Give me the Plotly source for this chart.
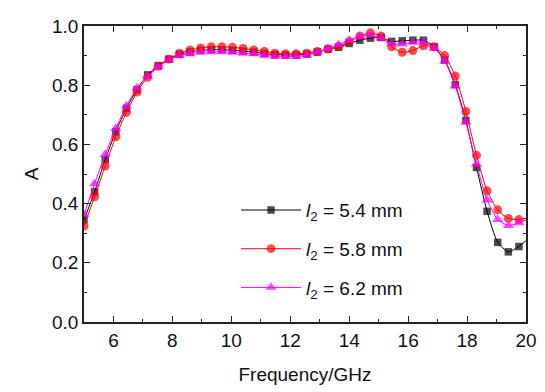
import plotly.graph_objects as go

# Frequency sample points (GHz); the final value is where each curve meets the 20 GHz axis
freq = [5.00, 5.36, 5.72, 6.08, 6.44, 6.80, 7.16, 7.52, 7.88, 8.24,
        8.60, 8.96, 9.32, 9.68, 10.04, 10.40, 10.76, 11.12, 11.48, 11.84,
        12.20, 12.56, 12.92, 13.28, 13.64, 14.00, 14.36, 14.72, 15.08, 15.44,
        15.80, 16.16, 16.52, 16.88, 17.24, 17.60, 17.96, 18.32, 18.68, 19.04,
        19.40, 19.76, 20.00]

a_54 = [0.345, 0.440, 0.549, 0.643, 0.722, 0.785, 0.835, 0.866, 0.888, 0.904,
        0.912, 0.918, 0.920, 0.920, 0.918, 0.915, 0.912, 0.907, 0.903, 0.902,
        0.902, 0.905, 0.912, 0.922, 0.928, 0.941, 0.952, 0.959, 0.961, 0.948,
        0.950, 0.952, 0.952, 0.930, 0.885, 0.802, 0.681, 0.522, 0.374, 0.269,
        0.237, 0.255, 0.275]

a_58 = [0.324, 0.423, 0.527, 0.626, 0.708, 0.777, 0.827, 0.864, 0.888, 0.908,
        0.919, 0.926, 0.930, 0.930, 0.928, 0.924, 0.919, 0.914, 0.908, 0.906,
        0.906, 0.908, 0.914, 0.922, 0.931, 0.947, 0.966, 0.977, 0.966, 0.930,
        0.911, 0.917, 0.933, 0.930, 0.900, 0.831, 0.711, 0.563, 0.443, 0.379,
        0.350, 0.346, 0.350]

a_62 = [0.362, 0.467, 0.566, 0.654, 0.730, 0.791, 0.830, 0.862, 0.885, 0.900,
        0.906, 0.911, 0.913, 0.913, 0.911, 0.908, 0.906, 0.901, 0.898, 0.897,
        0.897, 0.902, 0.912, 0.924, 0.937, 0.952, 0.964, 0.970, 0.959, 0.941,
        0.939, 0.945, 0.945, 0.926, 0.882, 0.797, 0.675, 0.533, 0.412, 0.346,
        0.326, 0.335, 0.345]

series_names = ["<i>l</i><sub>2</sub> = 5.4 mm",
                "<i>l</i><sub>2</sub> = 5.8 mm",
                "<i>l</i><sub>2</sub> = 6.2 mm"]
y_ticks = [0.0, 0.2, 0.4, 0.6, 0.8, 1.0]
x_ticks = [6, 8, 10, 12, 14, 16, 18, 20]

FONT = "Liberation Sans, Arial, sans-serif"

fig = go.Figure()
styles = [
    (a_54, "#000000", "square", 7.5),
    (a_58, "#FF0000", "circle", 9),
    (a_62, "#FF00FF", "triangle-up", 10),
]
n = len(freq)
for i, (ys, col, sym, sz) in enumerate(styles):
    sizes = [sz] * (n - 1) + [0]  # no marker where the curve meets the axis edge
    fig.add_trace(go.Scatter(
        x=freq, y=ys, name=series_names[i], mode="lines+markers",
        line=dict(color=col, width=1, shape="spline", smoothing=0.6),
        marker=dict(color=col, symbol=sym, size=sizes, line=dict(width=0)),
        legendgroup=f"g{i}",
    ))

axis_common = dict(
    showline=True, linecolor="#222222", linewidth=1.5, mirror="allticks",
    ticks="inside", ticklen=6, tickwidth=1.2, tickcolor="#222222",
    showgrid=False, zeroline=False, automargin=False,
    tickfont=dict(family=FONT, size=19, color="#111111"),
)

fig.update_xaxes(
    range=[5, 20], tickvals=x_ticks, ticktext=[str(v) for v in x_ticks],
    minor=dict(ticks="inside", ticklen=3, dtick=1, tick0=5, tickcolor="#222222", tickwidth=1),
    title=dict(text="Frequency/GHz", font=dict(family=FONT, size=19, color="#111111"), standoff=18),
    **axis_common,
)
fig.update_yaxes(
    range=[0, 1.0], tickvals=y_ticks, ticktext=[f"{v:.1f}" for v in y_ticks],
    minor=dict(ticks="inside", ticklen=3, dtick=0.1, tick0=0, tickcolor="#222222", tickwidth=1),
    title=dict(text="A", font=dict(family=FONT, size=19, color="#111111"), standoff=8),
    **axis_common,
)

fig.update_layout(
    width=545, height=392,
    margin=dict(l=76, r=27, t=18, b=78),
    plot_bgcolor="white", paper_bgcolor="white",
    showlegend=True,
    legend=dict(
        x=0.344, y=0.442, xanchor="left", yanchor="top",
        bgcolor="rgba(0,0,0,0)", borderwidth=0,
        font=dict(family=FONT, size=19, color="#111111"),
        itemwidth=60, tracegroupgap=11,
    ),
)

fig.write_html("out.html")
